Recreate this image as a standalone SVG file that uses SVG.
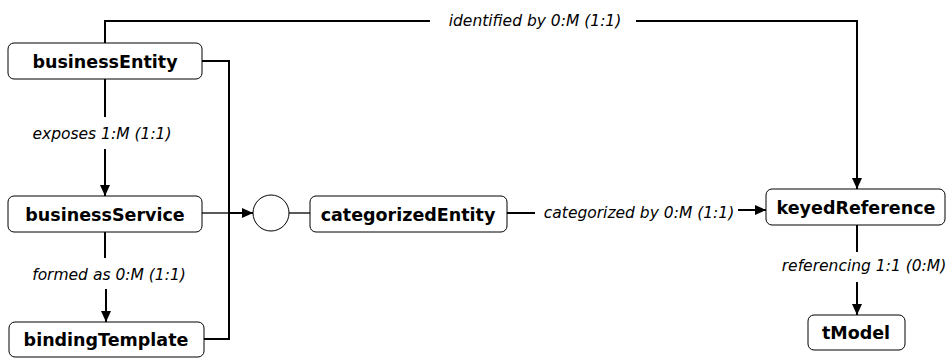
<svg xmlns="http://www.w3.org/2000/svg" width="947" height="358" viewBox="0 0 947 358">
<defs>
<marker id="arr" markerUnits="userSpaceOnUse" markerWidth="12" markerHeight="10" refX="11" refY="5" orient="auto">
<path d="M0,0 L11,5 L0,10 z" fill="#000"/>
</marker>
<style>
.box{fill:#fff;stroke:#000;stroke-width:1}
.nt{font-family:"DejaVu Sans",Verdana,sans-serif;font-weight:bold;font-size:17.5px;text-anchor:middle;fill:#000}
.lt{font-family:"DejaVu Sans",Verdana,sans-serif;font-style:italic;font-size:15.5px;text-anchor:middle;fill:#000}
.c{fill:none;stroke:#000;stroke-width:2}
.thin{fill:none;stroke:#000;stroke-width:1.3}
</style>
</defs>
<rect width="947" height="358" fill="#fff"/>
<g id="connectors">
<path class="c" d="M105,43 V21 H430"/>
<path class="c" d="M636,21 H857 V189" marker-end="url(#arr)"/>
<text class="lt" x="535" y="26">identified by 0:M (1:1)</text>
<path class="c" d="M202,61 H229 V339 H204"/>
<path class="c" d="M105,79 V117"/>
<text class="lt" x="102" y="139">exposes 1:M (1:1)</text>
<path class="c" d="M105,149 V196" marker-end="url(#arr)"/>
<path class="c" d="M105,232 V258"/>
<text class="lt" x="109" y="280">formed as 0:M (1:1)</text>
<path class="c" d="M106,289 V322" marker-end="url(#arr)"/>
<path class="thin" d="M202,213 H229"/>
<path class="c" d="M229,213 H253" marker-end="url(#arr)"/>
<path class="thin" d="M289,213 H310"/>
<path class="c" d="M507,213 H535"/>
<text class="lt" x="639" y="218">categorized by 0:M (1:1)</text>
<path class="c" d="M738,210 H766" marker-end="url(#arr)"/>
<path class="c" d="M857,225 V252"/>
<text class="lt" x="864" y="271">referencing 1:1 (0:M)</text>
<path class="c" d="M857,282 V315" marker-end="url(#arr)"/>
</g>
<g id="businessEntity"><rect class="box" x="8" y="43" width="194" height="36" rx="6"/><text class="nt" x="105" y="67.5">businessEntity</text></g>
<g id="businessService"><rect class="box" x="8" y="196" width="194" height="36" rx="6"/><text class="nt" x="105" y="220.5">businessService</text></g>
<g id="bindingTemplate"><rect class="box" x="9" y="322" width="195" height="35" rx="6"/><text class="nt" x="106" y="346">bindingTemplate</text></g>
<g id="junction"><circle cx="271" cy="213" r="18" fill="#fff" stroke="#000" stroke-width="1"/></g>
<g id="categorizedEntity"><rect class="box" x="310" y="196" width="197" height="36" rx="6"/><text class="nt" x="408" y="220.5">categorizedEntity</text></g>
<g id="keyedReference"><rect class="box" x="766" y="189" width="179" height="36" rx="6"/><text class="nt" x="856" y="213.5">keyedReference</text></g>
<g id="tModel"><rect class="box" x="808" y="315" width="97" height="35" rx="6"/><text class="nt" x="856" y="339">tModel</text></g>
</svg>
